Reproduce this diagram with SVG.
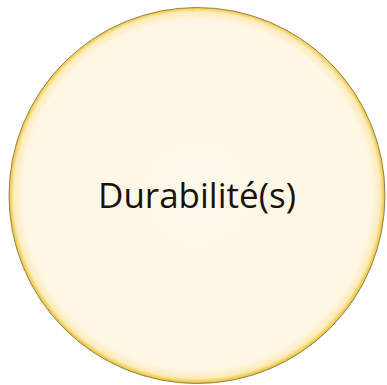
<svg xmlns="http://www.w3.org/2000/svg" width="387" height="385" viewBox="0 0 387 385">
<defs>
<radialGradient id="fill" cx="197" cy="195" r="188" gradientUnits="userSpaceOnUse">
<stop offset="0" stop-color="#FFF9EC"/>
<stop offset="0.93" stop-color="#FFF7E4"/>
<stop offset="0.975" stop-color="#FCEBBB"/>
<stop offset="0.99" stop-color="#F4D460"/>
<stop offset="1" stop-color="#E4BE48"/>
</radialGradient>
<style>
.lbl{font-family:"Open Sans","Liberation Sans",sans-serif;font-size:34px;fill:#1a1208;}
</style>
</defs>
<rect width="387" height="385" fill="#ffffff"/>
<g id="node-durabilite">
<circle cx="197" cy="195.5" r="188" fill="url(#fill)" stroke="#7d6e4a" stroke-width="0.8"/>
<text class="lbl" x="197" y="208" text-anchor="middle" textLength="198" lengthAdjust="spacingAndGlyphs">Durabilité(s)</text>
</g>
<g id="connectors"/>
</svg>
